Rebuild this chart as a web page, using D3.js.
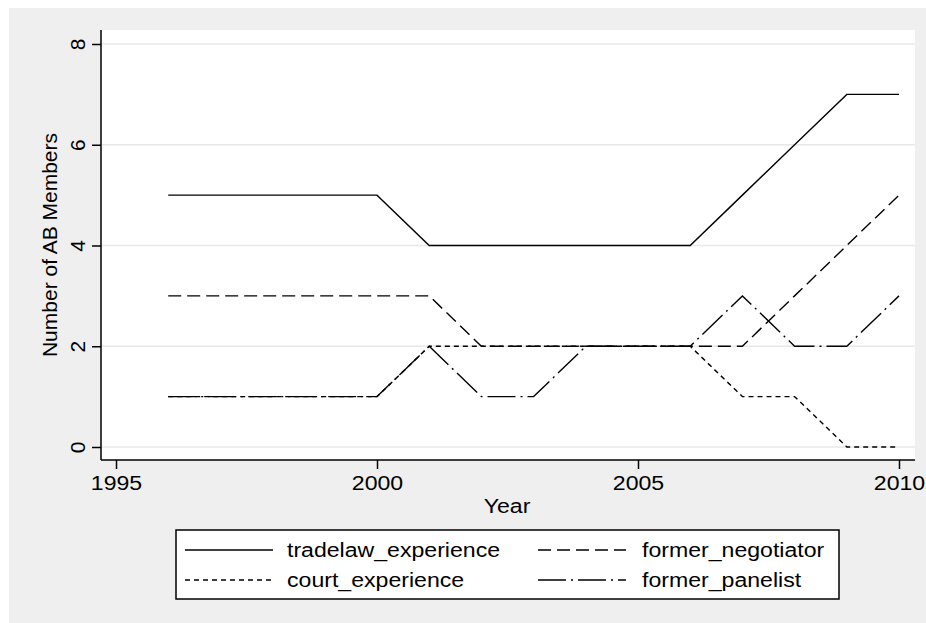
<!DOCTYPE html>
<html>
<head>
<meta charset="utf-8">
<script src="https://cdn.jsdelivr.net/npm/d3@7"></script>
<style>
  body { margin: 0; background: #fff; }
  text { font-family: "Liberation Sans", Arial, sans-serif; fill: #000; }
</style>
</head>
<body>
<div id="chart"></div>
<script>
const width = 926, height = 623;

// data
const years = [1996, 1997, 1998, 1999, 2000, 2001, 2002, 2003, 2004, 2005, 2006, 2007, 2008, 2009, 2010];
const tradelawExperience = [5, 5, 5, 5, 5, 4, 4, 4, 4, 4, 4, 5, 6, 7, 7];
const formerNegotiator   = [3, 3, 3, 3, 3, 3, 2, 2, 2, 2, 2, 2, 3, 4, 5];
const courtExperience    = [1, 1, 1, 1, 1, 2, 2, 2, 2, 2, 2, 1, 1, 0, 0];
const formerPanelist     = [1, 1, 1, 1, 1, 2, 1, 1, 2, 2, 2, 3, 2, 2, 3];
const xTicks = [1995, 2000, 2005, 2010];
const yTicks = [0, 2, 4, 6, 8];

const series = [
    { name: "tradelaw_experience", values: tradelawExperience, dash: null },
    { name: "former_negotiator", values: formerNegotiator, dash: "13,6" },
    { name: "court_experience", values: courtExperience, dash: "5,4" },
    { name: "former_panelist", values: formerPanelist, dash: "28,5,2,5" }
];

const plot = { left: 101, right: 915, top: 30, bottom: 460 };
const stretch = "scale(1.1,1)"; // the picture's text is a bit wide

const svg = d3.select("#chart").append("svg")
    .attr("width", width)
    .attr("height", height);

// outer gray background
svg.append("rect")
    .attr("x", 9).attr("y", 8)
    .attr("width", width - 9).attr("height", height - 8)
    .attr("fill", "#efefef");

svg.append("rect")
    .attr("x", plot.left).attr("y", plot.top)
    .attr("width", plot.right - plot.left).attr("height", plot.bottom - plot.top)
    .attr("fill", "#fff");

const x = d3.scaleLinear().domain([1995, 2010]).range([116, 899]);
const y = d3.scaleLinear().domain([0, 8]).range([447, 44]);

// gridlines
svg.append("g")
    .selectAll("line")
    .data(yTicks)
    .enter().append("line")
    .attr("x1", plot.left).attr("x2", plot.right)
    .attr("y1", d => y(d)).attr("y2", d => y(d))
    .attr("stroke", "#e8e8e8")
    .attr("stroke-width", 1.5);

// lines
const line = d3.line()
    .x((d, i) => x(years[i]))
    .y(d => y(d));

svg.append("g")
    .selectAll("path")
    .data(series)
    .enter().append("path")
    .attr("d", d => line(d.values))
    .attr("fill", "none")
    .attr("stroke", "#000")
    .attr("stroke-width", 1.4)
    .attr("stroke-dasharray", d => d.dash);

// y axis
const yAxis = svg.append("g")
    .attr("transform", `translate(${plot.left},0)`)
    .call(d3.axisLeft(y).tickValues(yTicks).tickSize(9).tickSizeOuter(0).tickPadding(8));
yAxis.select(".domain").attr("d", `M0,${plot.top}V${plot.bottom}`).attr("stroke-width", 1.5);
yAxis.selectAll(".tick line").attr("stroke-width", 1.5);
yAxis.selectAll(".tick text")
    .attr("x", null).attr("dy", null)
    .attr("transform", "translate(-16,0) rotate(-90)")
    .attr("text-anchor", "middle")
    .style("font-size", "21px")
    .style("font-family", "Liberation Sans, Arial, sans-serif");

// x axis
const xAxis = svg.append("g")
    .attr("transform", `translate(0,${plot.bottom})`)
    .call(d3.axisBottom(x).tickValues(xTicks).tickFormat(d3.format("d")).tickSize(9).tickSizeOuter(0).tickPadding(6));
xAxis.select(".domain").attr("d", `M${plot.left},0H${plot.right}`).attr("stroke-width", 1.5);
xAxis.selectAll(".tick line").attr("stroke-width", 1.5);
xAxis.selectAll(".tick text")
    .attr("transform", stretch)
    .style("font-size", "21px")
    .style("font-family", "Liberation Sans, Arial, sans-serif");

// axis titles
svg.append("text")
    .attr("transform", `translate(507,513) ${stretch}`)
    .attr("text-anchor", "middle")
    .style("font-size", "21px")
    .text("Year");

svg.append("text")
    .attr("transform", "translate(57,245) rotate(-90)")
    .attr("text-anchor", "middle")
    .style("font-size", "21px")
    .text("Number of AB Members");

// legend
svg.append("rect")
    .attr("x", 176).attr("y", 530)
    .attr("width", 663).attr("height", 69)
    .attr("fill", "#fff")
    .attr("stroke", "#000")
    .attr("stroke-width", 1.5);

const legend = svg.selectAll(".legend")
    .data(series)
    .enter().append("g")
    .attr("class", "legend")
    .attr("transform", (d, i) => `translate(${i % 2 === 0 ? 185 : 538},${i < 2 ? 550 : 580})`);

legend.append("line")
    .attr("x1", 0).attr("x2", 88)
    .attr("stroke", "#000")
    .attr("stroke-width", 1.4)
    .attr("stroke-dasharray", d => d.dash);

legend.append("text")
    .attr("transform", (d, i) => `translate(${i % 2 === 0 ? 102 : 104},7) ${stretch}`)
    .style("font-size", "21px")
    .text(d => d.name);
</script>
</body>
</html>
